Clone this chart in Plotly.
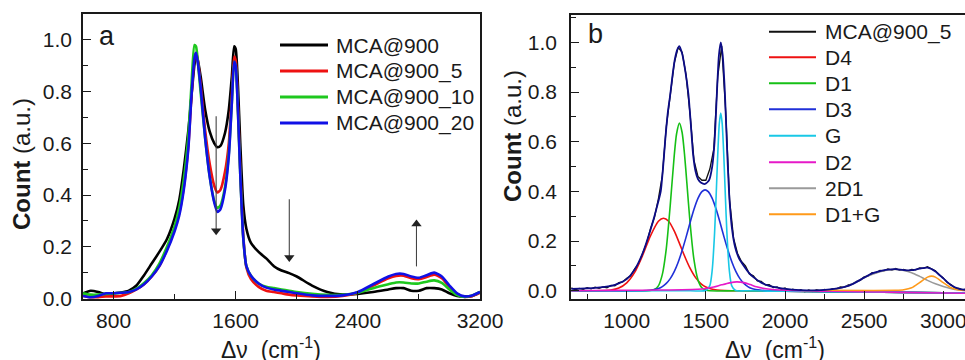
import plotly.graph_objects as go

# ---------------- Panel a data ----------------
wn_a = [600, 650, 700, 750, 800, 850, 900, 950, 1000, 1050,
        1100, 1150, 1200, 1230, 1260, 1290, 1310, 1330, 1340, 1350,
        1370, 1400, 1430, 1460, 1480, 1500, 1530, 1555, 1575, 1590,
        1600, 1615, 1630, 1650, 1670, 1700, 1750, 1800, 1850, 1900,
        1950, 2000, 2100, 2200, 2300, 2400, 2500, 2600, 2650, 2700,
        2750, 2800, 2850, 2900, 2950, 3000, 3050, 3100, 3150, 3200]

mca900 = [0.02, 0.03, 0.025, 0.015, 0.02, 0.023, 0.03, 0.05, 0.09, 0.135,
          0.18, 0.23, 0.31, 0.38, 0.50, 0.65, 0.78, 0.905, 0.935, 0.925,
          0.86, 0.73, 0.645, 0.60, 0.585, 0.59, 0.64, 0.73, 0.86, 0.975,
          0.965, 0.82, 0.60, 0.36, 0.27, 0.215, 0.18, 0.155, 0.125, 0.108,
          0.098, 0.085, 0.05, 0.025, 0.015, 0.018, 0.025, 0.035, 0.04, 0.04,
          0.03, 0.03, 0.04, 0.04, 0.035, 0.02, 0.01, 0.008, 0.01, 0.025]

mca900_5 = [0.01, 0.005, 0.005, 0.008, 0.008, 0.01, 0.02, 0.035, 0.055, 0.085,
            0.125, 0.19, 0.27, 0.33, 0.43, 0.59, 0.78, 0.93, 0.95, 0.93,
            0.83, 0.65, 0.52, 0.435, 0.41, 0.42, 0.49, 0.60, 0.79, 0.935,
            0.92, 0.74, 0.50, 0.24, 0.12, 0.075, 0.045, 0.03, 0.025, 0.02,
            0.015, 0.012, 0.008, 0.006, 0.01, 0.022, 0.05, 0.078, 0.087, 0.088,
            0.078, 0.075, 0.083, 0.092, 0.078, 0.045, 0.018, 0.006, 0.01, 0.022]

mca900_10 = [0.02, 0.015, 0.015, 0.018, 0.02, 0.022, 0.025, 0.038, 0.06, 0.09,
             0.135, 0.20, 0.28, 0.35, 0.46, 0.63, 0.82, 0.98, 0.975, 0.93,
             0.80, 0.62, 0.47, 0.375, 0.35, 0.36, 0.43, 0.56, 0.76, 0.915,
             0.90, 0.72, 0.48, 0.23, 0.125, 0.088, 0.058, 0.045, 0.04, 0.035,
             0.03, 0.025, 0.018, 0.014, 0.014, 0.022, 0.04, 0.055, 0.062, 0.062,
             0.058, 0.058, 0.065, 0.07, 0.06, 0.035, 0.013, 0.006, 0.012, 0.025]

mca900_20 = [0.01, 0.005, 0.01, 0.02, 0.02, 0.022, 0.025, 0.035, 0.055, 0.085,
             0.125, 0.185, 0.26, 0.32, 0.42, 0.58, 0.78, 0.93, 0.95, 0.92,
             0.82, 0.62, 0.47, 0.37, 0.335, 0.345, 0.42, 0.55, 0.76, 0.915,
             0.90, 0.72, 0.48, 0.23, 0.125, 0.088, 0.058, 0.042, 0.035, 0.03,
             0.025, 0.02, 0.012, 0.01, 0.012, 0.025, 0.055, 0.085, 0.095, 0.095,
             0.085, 0.08, 0.09, 0.10, 0.085, 0.05, 0.02, 0.008, 0.012, 0.025]

names_a = ["MCA@900", "MCA@900_5", "MCA@900_10", "MCA@900_20"]
colors_a = ["#000000", "#ee1111", "#1ec81e", "#1010e6"]

# tick labels
ticks_a_x = [800, 1600, 2400, 3200]
ticks_b_x = [1000, 1500, 2000, 2500, 3000]
ticks_y = [0.0, 0.2, 0.4, 0.6, 0.8, 1.0]

# arrows drawn in panel a (wavenumber, tail count, head count)
arrow_wn = [1472, 1951, 2784]
arrow_tail = [0.705, 0.384, 0.124]
arrow_head = [0.262, 0.158, 0.288]

# ---------------- Panel b data ----------------
wn_b = [650, 675, 700, 725, 750, 775, 800, 825, 850, 875,
        900, 925, 950, 975, 1000, 1025, 1050, 1075, 1100, 1125,
        1150, 1175, 1200, 1225, 1250, 1275, 1300, 1325, 1350, 1375,
        1400, 1425, 1450, 1475, 1500, 1525, 1550, 1575, 1600, 1625,
        1650, 1675, 1700, 1725, 1750, 1775, 1800, 1825, 1850, 1875,
        1900, 1925, 1950, 1975, 2000, 2025, 2050, 2075, 2100, 2125,
        2150, 2175, 2200, 2225, 2250, 2275, 2300, 2325, 2350, 2375,
        2400, 2425, 2450, 2475, 2500, 2525, 2550, 2575, 2600, 2625,
        2650, 2675, 2700, 2725, 2750, 2775, 2800, 2825, 2850, 2875,
        2900, 2925, 2950, 2975, 3000, 3025, 3050, 3075, 3100, 3125,
        3140]
mca900_5_b = [0.012, 0.004, 0.010, 0.006, 0.013, 0.008, 0.015, 0.010, 0.016, 0.012,
              0.022, 0.020, 0.033, 0.036, 0.050, 0.060, 0.088, 0.108, 0.150, 0.190,
              0.250, 0.295, 0.370, 0.465, 0.660, 0.795, 0.915, 0.980, 0.960, 0.868,
              0.712, 0.525, 0.460, 0.445, 0.445, 0.490, 0.570, 0.862, 0.985, 0.722,
              0.365, 0.212, 0.150, 0.118, 0.100, 0.068, 0.060, 0.040, 0.038, 0.024,
              0.025, 0.013, 0.016, 0.006, 0.011, 0.001, 0.006, -0.002, 0.004, -0.004,
              0.003, -0.003, 0.004, -0.001, 0.006, 0.002, 0.009, 0.008, 0.016, 0.014,
              0.024, 0.027, 0.037, 0.042, 0.056, 0.060, 0.073, 0.072, 0.082, 0.080,
              0.088, 0.083, 0.090, 0.082, 0.086, 0.079, 0.086, 0.084, 0.092, 0.090,
              0.097, 0.088, 0.081, 0.064, 0.052, 0.033, 0.024, 0.010, 0.010, 0.003,
              0.007]

fit_x = [650, 700, 800, 900, 950, 1000, 1050, 1100, 1150, 1175,
         1200, 1215, 1230, 1245, 1260, 1275, 1290, 1305, 1320, 1332,
         1350, 1370, 1390, 1405, 1420, 1435, 1450, 1470, 1495, 1520,
         1540, 1555, 1570, 1582, 1594, 1606, 1620, 1636, 1650, 1665,
         1685, 1710, 1740, 1775, 1800, 1850, 1900, 2000, 2100, 2200,
         2300, 2400, 2450, 2500, 2550, 2600, 2650, 2700, 2750, 2800,
         2850, 2900, 2950, 3000, 3050, 3100, 3140]
fit_y = [0.008, 0.009, 0.012, 0.02, 0.03, 0.047, 0.085, 0.15, 0.245, 0.30,
         0.36, 0.40, 0.50, 0.62, 0.72, 0.79, 0.87, 0.935, 0.972, 0.985,
         0.955, 0.885, 0.79, 0.67, 0.545, 0.48, 0.45, 0.435, 0.43, 0.445,
         0.50, 0.60, 0.80, 0.945, 1.0, 0.95, 0.80, 0.54, 0.36, 0.25,
         0.175, 0.13, 0.10, 0.07, 0.055, 0.033, 0.02, 0.008, 0.003, 0.002,
         0.007, 0.02, 0.035, 0.053, 0.07, 0.079, 0.085, 0.087, 0.083, 0.083,
         0.089, 0.093, 0.078, 0.05, 0.022, 0.008, 0.004]

d4_x = [650, 800, 900, 950, 1000, 1050, 1100, 1150, 1200, 1232, 1265, 1300, 1335,
        1370, 1400, 1435, 1470, 1500, 1535, 1570, 1620, 1700, 2000, 2500, 3000, 3140]
d4_y = [0.0, 0.0, 0.003, 0.011, 0.032, 0.074, 0.142, 0.221, 0.280, 0.292, 0.280, 0.241, 0.188,
        0.133, 0.091, 0.053, 0.028, 0.015, 0.007, 0.003, 0.001, 0.0, -0.002, -0.005, -0.008, -0.009]

d1_x = [650, 1000, 1150, 1175, 1200, 1225, 1250, 1275, 1300, 1315, 1333, 1350, 1365,
        1380, 1400, 1425, 1450, 1475, 1500, 1525, 1700, 2000, 2500, 3000, 3140]
d1_y = [0.0, 0.0, 0.001, 0.005, 0.020, 0.066, 0.170, 0.345, 0.543, 0.632, 0.675, 0.637, 0.550,
        0.434, 0.275, 0.124, 0.044, 0.012, 0.003, 0.0, 0.0, -0.002, -0.005, -0.008, -0.009]

d3_x = [650, 1100, 1150, 1175, 1200, 1225, 1250, 1275, 1300, 1325, 1350, 1375, 1400,
        1425, 1450, 1475, 1495, 1515, 1540, 1565, 1590, 1615, 1640, 1665, 1690, 1715,
        1740, 1765, 1790, 1815, 1850, 1900, 2000, 2500, 3000, 3140]
d3_y = [0.0, 0.0, 0.002, 0.005, 0.009, 0.017, 0.030, 0.049, 0.077, 0.115, 0.162, 0.216, 0.274,
        0.328, 0.372, 0.399, 0.406, 0.399, 0.372, 0.328, 0.274, 0.216, 0.162, 0.115, 0.077, 0.049,
        0.030, 0.017, 0.009, 0.005, 0.002, 0.0, -0.002, -0.005, -0.008, -0.009]

g_x = [650, 1400, 1500, 1525, 1540, 1555, 1565, 1575, 1585, 1594, 1603, 1613, 1623,
       1633, 1648, 1663, 1688, 1750, 2000, 2500, 3000, 3140]
g_y = [0.0, 0.0, 0.001, 0.021, 0.083, 0.232, 0.384, 0.548, 0.674, 0.715, 0.674, 0.548, 0.384,
       0.232, 0.083, 0.021, 0.001, 0.0, -0.002, -0.005, -0.008, -0.009]

d2_x = [650, 800, 1000, 1200, 1350, 1450, 1500, 1550, 1600, 1650, 1695, 1740, 1780,
        1820, 1870, 1920, 1970, 2100, 2300, 2600, 2900, 3140]
d2_y = [0.0, 0.001, 0.002, 0.003, 0.004, 0.006, 0.009, 0.015, 0.024, 0.032, 0.036, 0.033, 0.025,
        0.016, 0.009, 0.005, 0.003, 0.0, -0.002, -0.005, -0.008, -0.010]

d2d1_x = [2100, 2200, 2300, 2400, 2500, 2600, 2650, 2700, 2750, 2800, 2850, 2900, 2950,
          3000, 3050, 3100, 3140]
d2d1_y = [0.0, 0.001, 0.005, 0.02, 0.053, 0.077, 0.084, 0.086, 0.082, 0.073, 0.058, 0.042, 0.028,
          0.017, 0.008, 0.003, 0.001]

d1g_x = [2250, 2700, 2750, 2800, 2850, 2900, 2927, 2950, 3000, 3050, 3100, 3140]
d1g_y = [0.002, 0.002, 0.004, 0.012, 0.033, 0.055, 0.059, 0.055, 0.033, 0.012, 0.003, 0.001]

comp_names = ["D4", "D1", "D3", "G", "D2", "2D1", "D1+G"]
comp_colors = ["#ee1111", "#16c016", "#2030d8", "#19c8e6", "#e619c8", "#9a9a9a", "#ff9a1a"]
comp_x = [d4_x, d1_x, d3_x, g_x, d2_x, d2d1_x, d1g_x]
comp_y = [d4_y, d1_y, d3_y, g_y, d2_y, d2d1_y, d1g_y]

FONT = "Liberation Sans, Arial, sans-serif"
W, H = 965, 360
TXT = "#1a1a1a"
TICK_SIZE = 21

fig = go.Figure()

for name, col, ys in zip(names_a, colors_a, [mca900, mca900_5, mca900_10, mca900_20]):
    fig.add_trace(go.Scatter(x=wn_a, y=ys, name=name, mode="lines",
                             line=dict(color=col, width=2.6, shape="spline", smoothing=0.6),
                             xaxis="x", yaxis="y", showlegend=False))

for xa, yt, yh in zip(arrow_wn, arrow_tail, arrow_head):
    fig.add_trace(go.Scatter(x=[xa, xa], y=[yt, yh], mode="lines",
                             line=dict(color="#444444", width=1.1),
                             xaxis="x", yaxis="y", showlegend=False, hoverinfo="skip"))
    fig.add_trace(go.Scatter(x=[xa], y=[yh], mode="markers",
                             marker=dict(symbol="triangle-down" if yh < yt else "triangle-up",
                                         size=9, color="#222222", line=dict(width=0)),
                             xaxis="x", yaxis="y", showlegend=False, hoverinfo="skip"))

fig.add_trace(go.Scatter(x=wn_b, y=mca900_5_b, name="MCA@900_5", mode="lines",
                         line=dict(color="#111111", width=1.3),
                         xaxis="x2", yaxis="y2", showlegend=False))
for name, col, xs, ys in zip(comp_names, comp_colors, comp_x, comp_y):
    fig.add_trace(go.Scatter(x=xs, y=ys, name=name, mode="lines",
                             line=dict(color=col, width=1.6, shape="spline", smoothing=0.7),
                             xaxis="x2", yaxis="y2", showlegend=False))
fig.add_trace(go.Scatter(x=fit_x, y=fit_y, name="fit", mode="lines",
                         line=dict(color="#0c0c86", width=1.8, shape="spline", smoothing=0.6),
                         xaxis="x2", yaxis="y2", showlegend=False))

axis_common = dict(showline=True, linecolor=TXT, linewidth=1.6, ticks="inside",
                   ticklen=8, tickwidth=1.4, tickcolor=TXT, showgrid=False,
                   zeroline=False, automargin=False, ticklabeloverflow="allow",
                   tickfont=dict(size=TICK_SIZE, family=FONT, color=TXT))
minor_common = dict(ticks="inside", ticklen=5, tickwidth=1.2, tickcolor=TXT, showgrid=False)


def px_x(p):
    return p / W


def px_y(p):
    return 1 - p / H


fig.update_layout(
    width=W, height=H, margin=dict(l=0, r=0, t=0, b=0),
    paper_bgcolor="white", plot_bgcolor="white",
    font=dict(family=FONT, color=TXT, size=TICK_SIZE),
    showlegend=False,
    xaxis=dict(domain=[px_x(83), px_x(480)], range=[600, 3200], anchor="y",
               tickmode="array", tickvals=ticks_a_x, ticktext=[str(v) for v in ticks_a_x],
               ticklabelstandoff=2, mirror=True,
               minor=dict(dtick=400, tick0=800, **minor_common), **axis_common),
    yaxis=dict(domain=[px_y(299), px_y(14)], range=[-0.002, 1.1], anchor="x",
               tickmode="array", tickvals=ticks_y, ticktext=[f"{v:.1f}" for v in ticks_y],
               ticklabelstandoff=5, mirror=True,
               minor=dict(dtick=0.1, tick0=0, **minor_common), **axis_common),
    xaxis2=dict(domain=[px_x(571), 1.0], range=[648, 3137], anchor="y2",
                tickmode="array", tickvals=ticks_b_x, ticktext=[str(v) for v in ticks_b_x],
                ticklabelstandoff=2, mirror=True,
                minor=dict(dtick=250, tick0=1000, **minor_common), **axis_common),
    yaxis2=dict(domain=[px_y(299), px_y(15)], range=[-0.033, 1.11], anchor="x2",
                tickmode="array", tickvals=ticks_y, ticktext=[f"{v:.1f}" for v in ticks_y],
                ticklabelstandoff=8, mirror=False,
                minor=dict(dtick=0.1, tick0=0, **minor_common), **axis_common),
)

ann = []
shapes = []

for cx, cy in [(22, 164), (512, 136)]:
    ann.append(dict(text="<b>Count</b> (a.u.)", x=px_x(cx), y=px_y(cy), xref="paper", yref="paper",
                    textangle=-90, showarrow=False, xanchor="center", yanchor="middle",
                    font=dict(family=FONT, size=24, color=TXT)))
for cx in [271, 775]:
    ann.append(dict(text="\u0394\u03bd\u00a0\u00a0(cm<sup>-1</sup>)", x=px_x(cx), y=px_y(348),
                    xref="paper", yref="paper", showarrow=False, xanchor="center", yanchor="middle",
                    font=dict(family=FONT, size=23, color=TXT)))

ann.append(dict(text="a", x=px_x(107), y=px_y(36), xref="paper", yref="paper", showarrow=False,
                xanchor="center", yanchor="middle", font=dict(family=FONT, size=27, color=TXT)))
ann.append(dict(text="b", x=px_x(595), y=px_y(34), xref="paper", yref="paper", showarrow=False,
                xanchor="center", yanchor="middle", font=dict(family=FONT, size=27, color=TXT)))

rows_a = [45, 71, 97, 123]
for name, col, ry in zip(names_a, colors_a, rows_a):
    shapes.append(dict(type="line", xref="paper", yref="paper", x0=px_x(280), x1=px_x(328),
                       y0=px_y(ry), y1=px_y(ry), line=dict(color=col, width=3)))
    ann.append(dict(text=name, x=px_x(334), y=px_y(ry), xref="paper", yref="paper",
                    showarrow=False, xanchor="left", yanchor="middle",
                    font=dict(family=FONT, size=21, color=TXT)))

rows_b = [31.7, 57.3, 83.3, 109.3, 135.7, 162.3, 188.3, 214.3]
leg_b_names = ["MCA@900_5"] + comp_names
leg_b_colors = ["#111111"] + comp_colors
for name, col, ry in zip(leg_b_names, leg_b_colors, rows_b):
    shapes.append(dict(type="line", xref="paper", yref="paper", x0=px_x(769), x1=px_x(816),
                       y0=px_y(ry), y1=px_y(ry), line=dict(color=col, width=2)))
    ann.append(dict(text=name, x=px_x(823), y=px_y(ry), xref="paper", yref="paper",
                    showarrow=False, xanchor="left", yanchor="middle",
                    font=dict(family=FONT, size=21, color=TXT)))

fig.update_layout(annotations=ann, shapes=shapes)
fig.write_html("out.html", config={"displayModeBar": False},
               post_script="document.body.style.margin='0px';document.body.style.overflow='hidden';")
